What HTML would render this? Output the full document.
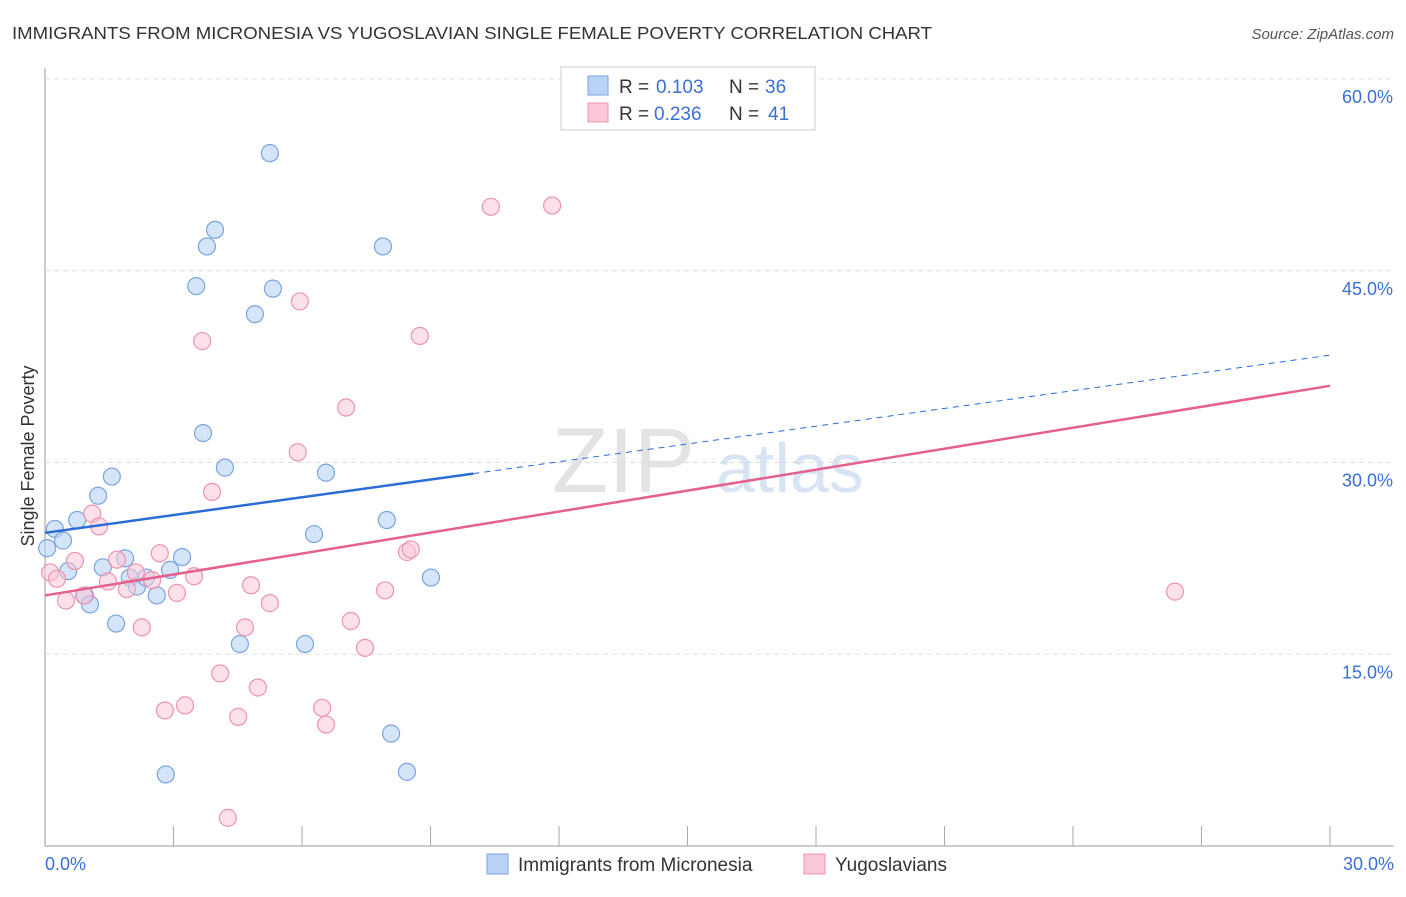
<!DOCTYPE html>
<html><head><meta charset="utf-8"><style>
body{margin:0;background:#fff;font-family:"Liberation Sans",sans-serif;}
svg text{font-family:"Liberation Sans",sans-serif;}
</style></head><body>
<svg id="chart" width="1406" height="892" xmlns="http://www.w3.org/2000/svg">
<text x="12" y="39" font-size="17.5" fill="#333" textLength="920" lengthAdjust="spacingAndGlyphs">IMMIGRANTS FROM MICRONESIA VS YUGOSLAVIAN SINGLE FEMALE POVERTY CORRELATION CHART</text>
<text x="1394" y="39" font-size="15" fill="#555" text-anchor="end" font-style="italic">Source: ZipAtlas.com</text>
<g id="grid"></g>
<g>
<text x="552" y="492" font-size="92" fill="#ddd" font-family="Liberation Serif" opacity="0.8">ZIP</text>
<text x="716" y="492" font-size="70" fill="#c8d8ee" opacity="0.7">atlas</text>
</g>
<g id="points"></g>
<g id="lines"></g>
<text transform="translate(34,456) rotate(-90)" font-size="18" fill="#333" text-anchor="middle">Single Female Poverty</text>
<g>
<rect x="561" y="67" width="254" height="63" fill="#fff" stroke="#ccc"/>
<rect x="588" y="76" width="20" height="19" fill="#b8d3f5" stroke="#7aa4e0"/>
<rect x="588" y="103" width="20" height="19" fill="#fac8d6" stroke="#ee93ae"/>
<text x="619" y="93" font-size="19" fill="#333">R =</text>
<text x="656" y="93" font-size="19" fill="#3a6fd8">0.103</text>
<text x="729" y="93" font-size="19" fill="#333">N =</text>
<text x="765" y="93" font-size="19" fill="#3a6fd8">36</text>
<text x="619" y="120" font-size="19" fill="#333">R =</text>
<text x="654" y="120" font-size="19" fill="#3a6fd8">0.236</text>
<text x="729" y="120" font-size="19" fill="#333">N =</text>
<text x="768" y="120" font-size="19" fill="#3a6fd8">41</text>
</g>
<g>
<rect x="487" y="854" width="21" height="20" fill="#b8d3f5" stroke="#7aa4e0"/>
<text x="518" y="871" font-size="19" fill="#333">Immigrants from Micronesia</text>
<rect x="804" y="854" width="21" height="20" fill="#fac8d6" stroke="#ee93ae"/>
<text x="835" y="871" font-size="19" fill="#333">Yugoslavians</text>
</g>
</svg>
<script>
const blueX=[0.05,0.23,0.42,0.54,0.75,0.93,1.05,1.24,1.35,1.56,1.66,1.87,1.98,2.15,2.36,2.61,2.82,2.92,3.20,3.53,3.69,3.78,3.97,4.20,4.55,4.90,5.25,5.32,6.07,6.28,6.56,7.89,7.98,8.08,8.45,9.01];
const blueY=[23.3,24.8,23.9,21.5,25.5,19.6,18.9,27.4,21.8,28.9,17.4,22.5,21.0,20.3,21.0,19.6,5.6,21.6,22.6,43.8,32.3,46.9,48.2,29.6,15.8,41.6,54.2,43.6,15.8,24.4,29.2,46.9,25.5,8.8,5.8,21.0];
const pinkX=[0.12,0.28,0.49,0.70,0.91,1.10,1.26,1.47,1.68,1.91,2.12,2.26,2.50,2.68,2.80,3.08,3.27,3.48,3.67,3.90,4.09,4.27,4.51,4.67,4.81,4.97,5.25,5.90,5.95,6.47,6.56,7.03,7.14,7.47,7.94,8.45,8.54,8.75,10.41,11.84,26.38];
const pinkY=[21.4,20.9,19.2,22.3,19.6,26.0,25.0,20.7,22.4,20.1,21.4,17.1,20.8,22.9,10.6,19.8,11.0,21.1,39.5,27.7,13.5,2.2,10.1,17.1,20.4,12.4,19.0,30.8,42.6,10.8,9.5,34.3,17.6,15.5,20.0,23.0,23.2,39.9,50.0,50.1,19.9];
const blueTrend=[24.5,38.4]; // y at x=0 and x=30
const pinkTrend=[19.6,36.0];
const yTicks=[15,30,45,60];
const xTickLabels=["0.0%","30.0%"];
const NS="http://www.w3.org/2000/svg";
const X=v=>45+v/30*1285, Y=v=>846-v/60*767;
function mk(tag,attrs,parent){const e=document.createElementNS(NS,tag);for(const k in attrs)e.setAttribute(k,attrs[k]);parent.appendChild(e);return e;}
const grid=document.getElementById('grid');
let ax=mk('line',{x1:45,y1:68,x2:45,y2:846,stroke:'#999'},grid);


let bx=mk('line',{x1:45,y1:846,x2:1394,y2:846,stroke:'#999'},grid);


yTicks.forEach(t=>{
 const g=mk('line',{x1:45,x2:1394,y1:Y(t),y2:Y(t),stroke:'#ddd','stroke-dasharray':'5,4'},grid);
 
 
 const l=mk('text',{x:1393,y:Y(t)+24,'font-size':18,fill:'#3a6fd8','text-anchor':'end'},grid);l.textContent=t.toFixed(1)+'%';
 
 
});
for(let i=1;i<=10;i++){const x=45+i*128.5;const t=mk('line',{x1:x,x2:x,y1:826,y2:846,stroke:'#aaa'},grid);
 
 }
const xl0=mk('text',{x:45,y:870,'font-size':18,fill:'#3a6fd8'},grid);xl0.textContent=xTickLabels[0];


const xl1=mk('text',{x:1394,y:870,'font-size':18,fill:'#3a6fd8','text-anchor':'end'},grid);xl1.textContent=xTickLabels[1];


const pts=document.getElementById('points');
blueX.forEach((v,i)=>{const c=mk('circle',{cx:X(v),cy:Y(blueY[i]),r:8.5,fill:'#b8d3f5','fill-opacity':0.6,stroke:'#7aa4e0','stroke-width':1.2},pts);
 
 });
pinkX.forEach((v,i)=>{const c=mk('circle',{cx:X(v),cy:Y(pinkY[i]),r:8.5,fill:'#fac8d6','fill-opacity':0.55,stroke:'#ee93ae','stroke-width':1.2},pts);
 
 });
const ln=document.getElementById('lines');
const bAt=x=>blueTrend[0]+(blueTrend[1]-blueTrend[0])*x/30;
const b1=mk('line',{x1:X(0),y1:Y(bAt(0)),x2:X(10),y2:Y(bAt(10)),stroke:'#2a6dd6','stroke-width':2.5},ln);


const b2=mk('line',{x1:X(10),y1:Y(bAt(10)),x2:X(30),y2:Y(bAt(30)),stroke:'#2a6dd6','stroke-width':1,'stroke-dasharray':'6,5'},ln);


const p1=mk('line',{x1:X(0),y1:Y(pinkTrend[0]),x2:X(30),y2:Y(pinkTrend[1]),stroke:'#e6608e','stroke-width':2.5},ln);


</script>
</body></html>
